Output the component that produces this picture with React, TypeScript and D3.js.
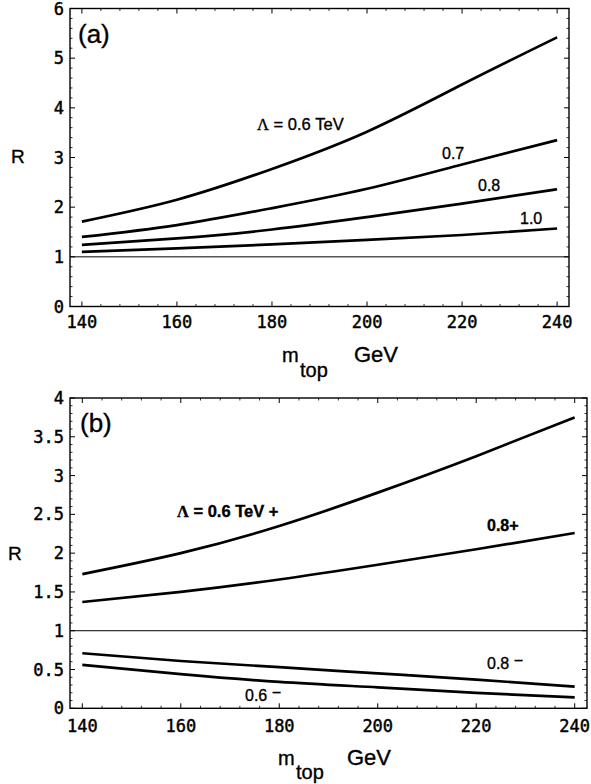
import React from 'react';
import * as d3 from 'd3';

// ---- data ----
const mTop = [140, 160, 180, 200, 220, 240];
const a06 = [1.71, 2.15, 2.77, 3.52, 4.47, 5.42];
const a07 = [1.40, 1.64, 1.98, 2.37, 2.86, 3.35];
const a08 = [1.24, 1.37, 1.55, 1.80, 2.07, 2.36];
const a10 = [1.10, 1.17, 1.25, 1.34, 1.44, 1.57];
const b06p = [1.73, 2.00, 2.35, 2.78, 3.25, 3.75];
const b08p = [1.37, 1.50, 1.66, 1.85, 2.05, 2.26];
const b08m = [0.71, 0.61, 0.53, 0.45, 0.37, 0.28];
const b06m = [0.56, 0.44, 0.34, 0.27, 0.20, 0.14];

const xTicks = [140, 160, 180, 200, 220, 240];
const xTickLabels = ['140', '160', '180', '200', '220', '240'];
const yTicksA = [0, 1, 2, 3, 4, 5, 6];
const yLabelsA = ['0', '1', '2', '3', '4', '5', '6'];
const yTicksB = [0, 0.5, 1, 1.5, 2, 2.5, 3, 3.5, 4];
const yLabelsB = ['0', '0.5', '1', '1.5', '2', '2.5', '3', '3.5', '4'];
const xDomain: [number, number] = [137.5, 242.5];

const SANS = '"Liberation Sans", Arial, Helvetica, sans-serif';
const MONO = '"DejaVu Sans Mono", monospace';
const SERIF = '"Liberation Serif", "Times New Roman", serif';

type PanelProps = {
  left: number; right: number; top: number; bottom: number;
  yMax: number; yTicks: number[]; yLabels: string[]; yMinor: number;
  series: number[][]; tickLabelY: number;
};

function Panel(p: PanelProps) {
  const x = d3.scaleLinear().domain(xDomain).range([p.left, p.right]);
  const y = d3.scaleLinear().domain([0, p.yMax]).range([p.bottom, p.top]);
  const line = d3.line<number>()
    .x((_, i) => x(mTop[i]))
    .y((d) => y(d))
    .curve(d3.curveNatural);
  const xMinor = d3.range(140, 240.001, 4).filter((v) => !xTicks.includes(v));
  const yMinor = d3.range(0, p.yMax + 1e-6, p.yMinor)
    .filter((v) => !p.yTicks.some((t) => Math.abs(t - v) < 1e-6));
  const maj = 5, mnr = 2.5;
  return (
    <g>
      <line x1={p.left} x2={p.right} y1={y(1)} y2={y(1)} stroke="#000" strokeWidth={1} />
      {p.series.map((s, i) => (
        <path key={i} d={line(s) || ''} fill="none" stroke="#000" strokeWidth={2.7} strokeLinecap="butt" />
      ))}
      <rect x={p.left} y={p.top} width={p.right - p.left} height={p.bottom - p.top}
        fill="none" stroke="#000" strokeWidth={1.4} />
      {xTicks.map((t) => (
        <g key={'xt' + t}>
          <line x1={x(t)} x2={x(t)} y1={p.bottom} y2={p.bottom - maj} stroke="#000" strokeWidth={1} />
          <line x1={x(t)} x2={x(t)} y1={p.top} y2={p.top + maj} stroke="#000" strokeWidth={1} />
        </g>
      ))}
      {xMinor.map((t) => (
        <g key={'xm' + t}>
          <line x1={x(t)} x2={x(t)} y1={p.bottom} y2={p.bottom - mnr} stroke="#000" strokeWidth={0.8} />
          <line x1={x(t)} x2={x(t)} y1={p.top} y2={p.top + mnr} stroke="#000" strokeWidth={0.8} />
        </g>
      ))}
      {p.yTicks.map((t) => (
        <g key={'yt' + t}>
          <line x1={p.left} x2={p.left + maj} y1={y(t)} y2={y(t)} stroke="#000" strokeWidth={1} />
          <line x1={p.right} x2={p.right - maj} y1={y(t)} y2={y(t)} stroke="#000" strokeWidth={1} />
        </g>
      ))}
      {yMinor.map((t) => (
        <g key={'ym' + t}>
          <line x1={p.left} x2={p.left + mnr} y1={y(t)} y2={y(t)} stroke="#000" strokeWidth={0.8} />
          <line x1={p.right} x2={p.right - mnr} y1={y(t)} y2={y(t)} stroke="#000" strokeWidth={0.8} />
        </g>
      ))}
      {xTicks.map((t, i) => (
        <text key={'xl' + t} x={x(t)} y={p.tickLabelY} textAnchor="middle"
          fontFamily={MONO} fontSize={17} stroke="#000" strokeWidth={0.45}>{xTickLabels[i]}</text>
      ))}
      {p.yTicks.map((t, i) => (
        <text key={'yl' + t} x={p.left - 6} y={y(t)} dy="0.36em" textAnchor="end"
          fontFamily={MONO} fontSize={17} stroke="#000" strokeWidth={0.45}>{p.yLabels[i]}</text>
      ))}
    </g>
  );
}

const lbl = { fontFamily: SANS, stroke: '#000', strokeWidth: 0.35 } as const;

export default function App() {
  return (
    <svg width={591} height={784} style={{ position: 'absolute', left: 0, top: 0, background: '#fff' }}>
      <rect x={0} y={0} width={591} height={784} fill="#fff" />
      {/* Panel (a) */}
      <Panel left={70} right={569} top={8.5} bottom={306.5} yMax={6}
        yTicks={yTicksA} yLabels={yLabelsA} yMinor={0.2}
        series={[a06, a07, a08, a10]} tickLabelY={328} />
      <text x={78} y={43} fontSize={26} {...lbl}>(a)</text>
      <text x={11} y={163} fontSize={19} {...lbl}>R</text>
      <text x={257} y={130} fontSize={16.5} {...lbl}>
        <tspan fontFamily={SERIF}>Λ</tspan> = 0.6 TeV
      </text>
      <text x={442} y={159} fontSize={16} {...lbl}>0.7</text>
      <text x={478} y={191} fontSize={16} {...lbl}>0.8</text>
      <text x={520} y={224} fontSize={16} {...lbl}>1.0</text>
      <text x={282} y={362} fontSize={20} {...lbl}>m</text>
      <text x={300} y={377} fontSize={20} {...lbl}>top</text>
      <text x={354} y={362} fontSize={22} {...lbl}>GeV</text>

      {/* Panel (b) */}
      <Panel left={70} right={587} top={398} bottom={708.3} yMax={4}
        yTicks={yTicksB} yLabels={yLabelsB} yMinor={0.1}
        series={[b06p, b08p, b08m, b06m]} tickLabelY={732} />
      <text x={80} y={432} fontSize={26} {...lbl}>(b)</text>
      <text x={8} y={560} fontSize={19} {...lbl}>R</text>
      <text x={177} y={517} fontSize={16.5} fontWeight="bold" {...lbl}>
        <tspan fontFamily={SERIF}>Λ</tspan> = 0.6 TeV +
      </text>
      <text x={487} y={531} fontSize={16} fontWeight="bold" {...lbl}>0.8+</text>
      <text x={487} y={669} fontSize={16} {...lbl}>0.8 <tspan dy={-3}>−</tspan></text>
      <text x={245} y={701} fontSize={16} {...lbl}>0.6 <tspan dy={-3}>−</tspan></text>
      <text x={278} y={765} fontSize={20} {...lbl}>m</text>
      <text x={296} y={779} fontSize={20} {...lbl}>top</text>
      <text x={347} y={765} fontSize={22} {...lbl}>GeV</text>
    </svg>
  );
}
